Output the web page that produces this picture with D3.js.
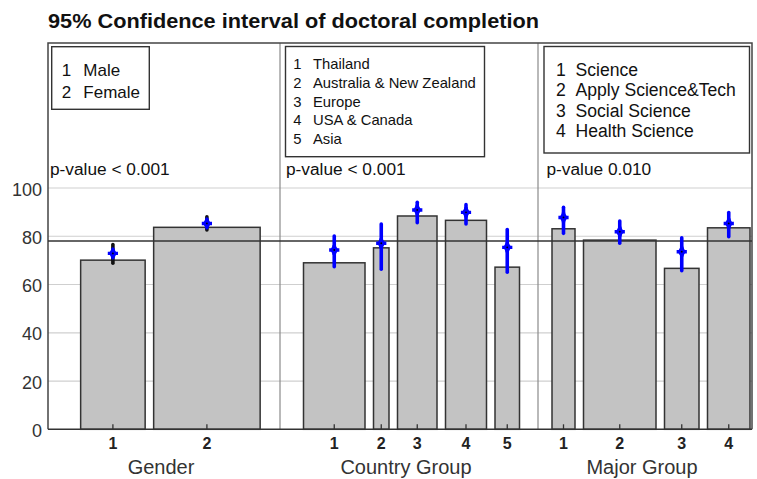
<!DOCTYPE html>
<html>
<head>
<meta charset="utf-8">
<script src="https://cdn.jsdelivr.net/npm/d3@7/dist/d3.min.js"></script>
<style>
  html, body { margin: 0; padding: 0; background: #fff; }
  svg text { font-family: "Liberation Sans", Arial, sans-serif; }
</style>
</head>
<body>
<svg id="chart" width="757" height="479"></svg>
<script>
// ---------------- DATA ----------------
const title = "95% Confidence interval of doctoral completion";
const yTicks = [0, 20, 40, 60, 80, 100];
const overallMean = 78;

const groupTitles = ["Gender", "Country Group", "Major Group"];
const pValues = ["p-value < 0.001", "p-value < 0.001", "p-value 0.010"];

const genderLabels = ["Male", "Female"];
const countryLabels = ["Thailand", "Australia & New Zealand", "Europe", "USA & Canada", "Asia"];
const majorLabels = ["Science", "Apply Science&Tech", "Social Science", "Health Science"];

// relative sample sizes (bar widths)
const genderN = [129, 213];
const countryN = [123, 31, 79, 82, 49];
const majorN = [46, 145, 69, 85];

// bar heights (%)
const genderBar = [70.1, 83.7];
const countryBar = [69.0, 75.2, 88.4, 86.6, 67.2];
const majorBar = [83.1, 78.4, 66.7, 83.5];

// mean and 95% CI (%)
const genderMean = [72.9, 85.3];
const genderLo = [68.8, 82.6];
const genderHi = [76.6, 88.1];
const countryMean = [74.3, 77.1, 90.9, 89.9, 75.4];
const countryLo = [67.4, 66.3, 85.6, 85.1, 65.1];
const countryHi = [80.1, 85.1, 94.1, 93.1, 82.8];
const majorMean = [87.8, 81.9, 73.6, 85.3];
const majorLo = [81.2, 77.1, 65.7, 79.8];
const majorHi = [92.0, 86.3, 79.4, 89.8];

// ---------------- LAYOUT ----------------
const svg = d3.select("#chart");
const plot = { left: 48, right: 752, top: 43, bottom: 429.3 };
const panelEdges = [48, 280, 538, 752];

const y = d3.scaleLinear().domain([0, 100]).range([plot.bottom, 188]);

const panels = [
  { labels: genderLabels, n: genderN, bar: genderBar, mean: genderMean, lo: genderLo, hi: genderHi,
    shift: 6.4, pX: 50,
    ciColor: "#111", legendFont: 17, legendRow: 22, legendBox: [51.7, 46.7, 149.3, 109.3], legendBase: 75.5, numX: 61.7, txtX: 83.3 },
  { labels: countryLabels, n: countryN, bar: countryBar, mean: countryMean, lo: countryLo, hi: countryHi,
    shift: 2.5, pX: 286,
    ciColor: "#0000ff", legendFont: 14.8, legendRow: 18.7, legendBox: [285.5, 46.5, 484.5, 156.7], legendBase: 69.3, numX: 293.3, txtX: 313 },
  { labels: majorLabels, n: majorN, bar: majorBar, mean: majorMean, lo: majorLo, hi: majorHi,
    shift: 6.0, pX: 546.5,
    ciColor: "#0000ff", legendFont: 17.6, legendRow: 20.3, legendBox: [544, 46.5, 749.5, 153], legendBase: 76, numX: 556, txtX: 575.5 }
];

const unitPx = 0.5;   // px per sample unit
const gapUnits = 17;  // gap between bars in sample units

// ---------------- GRID & FRAME ----------------
svg.append("g").selectAll("line.grid")
  .data(yTicks.filter(t => t > 0))
  .join("line")
  .attr("x1", plot.left).attr("x2", plot.right)
  .attr("y1", d => y(d)).attr("y2", d => y(d))
  .attr("stroke", "#cfcfcf").attr("stroke-width", 1.2);

// panel dividers
svg.append("g").selectAll("line.div")
  .data(panelEdges.slice(1, 3))
  .join("line")
  .attr("x1", d => d).attr("x2", d => d)
  .attr("y1", plot.top).attr("y2", plot.bottom)
  .attr("stroke", "#8a8a8a").attr("stroke-width", 1.2);

// frame (top, right, left)
svg.append("path")
  .attr("d", `M${plot.left},${plot.bottom} V${plot.top} H${plot.right} V${plot.bottom}`)
  .attr("fill", "none").attr("stroke", "#444").attr("stroke-width", 1.5);

// y axis labels
svg.append("g").selectAll("text")
  .data(yTicks)
  .join("text")
  .attr("x", 42).attr("y", d => y(d) + 7.5)
  .attr("text-anchor", "end")
  .attr("font-size", 18).attr("fill", "#333")
  .text(d => d);

// title
svg.append("text")
  .attr("x", 48).attr("y", 28)
  .attr("font-size", 20.5).attr("font-weight", "bold").attr("fill", "#111")
  .attr("textLength", 491).attr("lengthAdjust", "spacingAndGlyphs")
  .text(title);

// ---------------- PANELS ----------------
const barLayer = svg.append("g");
const refLayer = svg.append("g");
const ciLayer = svg.append("g");

panels.forEach((p, i) => {
  const pL = panelEdges[i], pR = panelEdges[i + 1];
  const totalUnits = d3.sum(p.n) + gapUnits * (p.n.length - 1);
  const groupW = totalUnits * unitPx;
  const start = (pL + pR) / 2 + p.shift - groupW / 2;
  const x = d3.scaleLinear().domain([0, totalUnits]).range([start, start + groupW]);

  const cum = [];
  let acc = 0;
  p.n.forEach(n => { cum.push(acc); acc += n + gapUnits; });

  const items = p.n.map((n, j) => ({
    x0: cum[j], x1: cum[j] + n, bar: p.bar[j], mean: p.mean[j], lo: p.lo[j], hi: p.hi[j], k: j + 1
  }));

  // bars
  barLayer.selectAll(null)
    .data(items)
    .join("rect")
    .attr("x", d => x(d.x0)).attr("width", d => x(d.x1) - x(d.x0))
    .attr("y", d => y(d.bar)).attr("height", d => y(0) - y(d.bar))
    .attr("fill", "#c3c3c3").attr("stroke", "#333").attr("stroke-width", 1.5);

  // tick marks (inward)
  barLayer.selectAll(null)
    .data(items)
    .join("line")
    .attr("x1", d => x((d.x0 + d.x1) / 2)).attr("x2", d => x((d.x0 + d.x1) / 2))
    .attr("y1", plot.bottom - 5).attr("y2", plot.bottom)
    .attr("stroke", "#333").attr("stroke-width", 1.3);

  // tick labels
  svg.append("g").selectAll("text")
    .data(items)
    .join("text")
    .attr("x", d => x((d.x0 + d.x1) / 2)).attr("y", 449)
    .attr("text-anchor", "middle")
    .attr("font-size", 16).attr("font-weight", "bold").attr("fill", "#222")
    .text(d => d.k);

  // CI lines
  ciLayer.selectAll(null)
    .data(items)
    .join("line")
    .attr("x1", d => x((d.x0 + d.x1) / 2)).attr("x2", d => x((d.x0 + d.x1) / 2))
    .attr("y1", d => y(d.lo)).attr("y2", d => y(d.hi))
    .attr("stroke", p.ciColor).attr("stroke-width", 3.6).attr("stroke-linecap", "round");

  // mean markers
  const mk = ciLayer.selectAll(null)
    .data(items)
    .join("g")
    .attr("transform", d => `translate(${x((d.x0 + d.x1) / 2)},${y(d.mean)})`);
  mk.append("path").attr("d", d3.symbol().type(d3.symbolCross).size(58)).attr("fill", "#0000ff");
  mk.append("path").attr("d", d3.symbol().type(d3.symbolDiamond).size(55)).attr("fill", "#0000ff");
  mk.append("circle").attr("r", 0.9).attr("fill", "#000");

  // group title
  svg.append("text")
    .attr("x", (pL + pR) / 2 - 3).attr("y", 474)
    .attr("text-anchor", "middle")
    .attr("font-size", 20).attr("fill", "#333")
    .text(groupTitles[i]);

  // p-value
  svg.append("text")
    .attr("x", p.pX).attr("y", 175)
    .attr("font-size", 17.3).attr("fill", "#111")
    .text(pValues[i]);

  // legend box
  const b = p.legendBox;
  svg.append("rect")
    .attr("x", b[0]).attr("y", b[1]).attr("width", b[2] - b[0]).attr("height", b[3] - b[1])
    .attr("fill", "#fff").attr("stroke", "#333").attr("stroke-width", 1.4);
  const lg = svg.append("g");
  lg.selectAll(null).data(p.labels).join("text")
    .attr("x", p.numX).attr("y", (d, j) => p.legendBase + j * p.legendRow)
    .attr("font-size", p.legendFont).attr("fill", "#111")
    .text((d, j) => j + 1);
  lg.selectAll(null).data(p.labels).join("text")
    .attr("x", p.txtX).attr("y", (d, j) => p.legendBase + j * p.legendRow)
    .attr("font-size", p.legendFont).attr("fill", "#111")
    .text(d => d);
});

// overall mean reference line
refLayer.append("line")
  .attr("x1", plot.left).attr("x2", plot.right)
  .attr("y1", y(overallMean)).attr("y2", y(overallMean))
  .attr("stroke", "#333").attr("stroke-width", 1.5);

// bottom axis line
svg.append("line")
  .attr("x1", plot.left).attr("x2", plot.right)
  .attr("y1", plot.bottom).attr("y2", plot.bottom)
  .attr("stroke", "#333").attr("stroke-width", 1.6);
</script>
</body>
</html>
